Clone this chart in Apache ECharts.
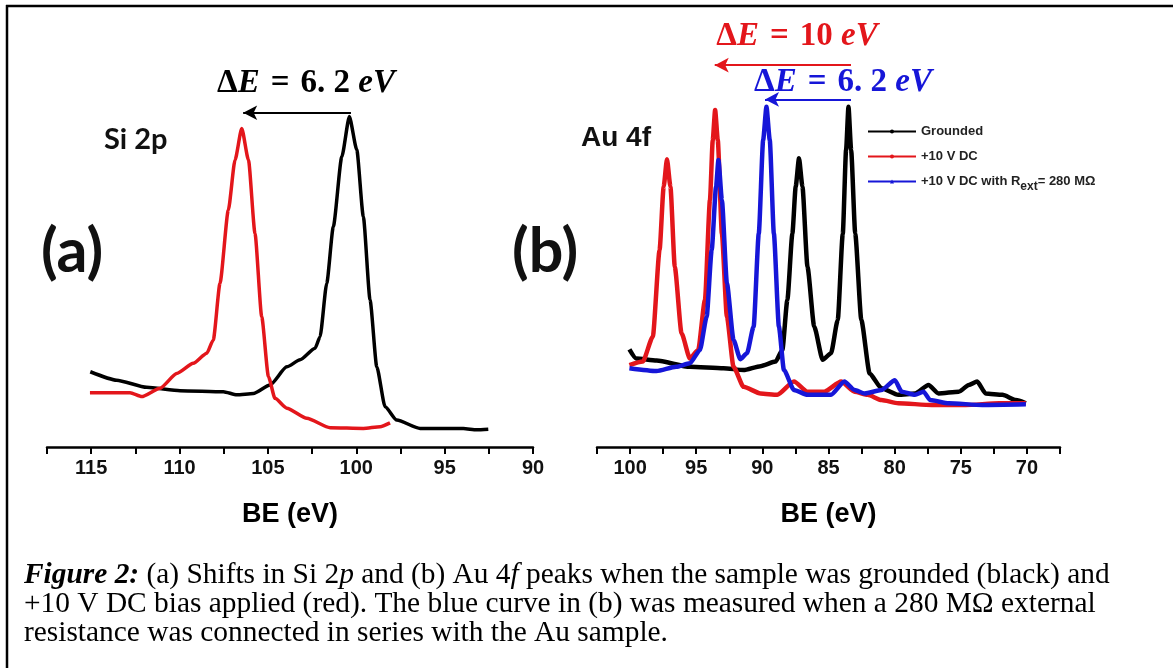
<!DOCTYPE html>
<html><head><meta charset="utf-8">
<script src="https://cdn.jsdelivr.net/npm/echarts@6/dist/echarts.min.js"></script>
<style>html,body{margin:0;padding:0;background:#fff}#c{width:1173px;height:668px}</style>
</head><body><div id="c"></div><script>
// ---- Panel (a): Si 2p ----
const siBE_g = [115.05,113.56,111.86,109.97,107.52,106.76,105.82,104.88,103.93,103.18,102.33,102.05,101.67,101.3,100.82,100.39,99.97,99.6,99.22,98.84,98.37,97.71,96.39,95.26,93.94,93.19,92.53];
const siI_g  = [21.5,19.1,17.05,16.1,15.8,14.9,15.3,17.7,22.9,24.9,28.2,31.5,46.8,62.9,82.9,94.4,84.9,65.8,42,22.9,11.5,7.7,5.3,5.3,5.3,4.9,5.1];
const siBE_r = [115.07,112.8,112.14,111.1,110.16,109.22,108.46,108.09,107.71,107.24,106.86,106.48,106.1,105.73,105.35,104.97,104.6,103.93,102.8,101.48,99.6,98.65,98.09];
const siI_r  = [15.5,15.5,14.4,16.8,21,23.9,26.8,30.6,46.8,67.7,82,91,82,61,37.2,20.1,13.9,11.1,8.2,5.5,5.3,5.8,6.9];
// ---- Panel (b): Au 4f ----
const auBE_g = [100.05,99.54,98.0,95.48,92.94,91.42,90.14,89.0,88.49,88.11,87.73,87.48,87.23,86.97,86.59,86.08,85.44,84.81,84.3,83.92,83.67,83.49,83.29,82.98,82.52,81.89,81.0,79.73,78.46,77.44,76.68,75.15,74.39,73.76,73.12,71.85,70.84,70.08];
const auI_g  = [27.9,25.3,24.7,22.9,22.5,22,23.1,24.4,27.7,42,61,74.4,82.5,74.4,51.5,34.4,24.9,26.8,36.3,61,84.9,97.2,84.9,61,36.3,21,16.8,14.9,15.3,17.7,15.3,15.8,17.7,18.7,15.3,14.9,13.4,12.5];
const auBE_r = [100.05,99.04,98.28,97.77,97.46,97.21,96.95,96.62,96.11,95.48,94.85,94.34,93.96,93.75,93.57,93.37,93.06,92.68,92.18,91.42,90.14,88.87,87.61,86.59,85.32,84.05,83.03,82.04,81.0,79.73,77.19,74.65,72.1,70.08];
const auI_r  = [23.4,24.4,31.5,56.3,74.4,82.2,74.4,51.5,32.5,25.3,27.7,42,70.6,87.7,96.3,87.7,61,37.2,22.9,17.2,15.3,14.9,18.7,15.8,15.8,18.7,15.8,14.9,13.4,12.5,12,12,12.5,12.5];
const auBE_b = [100.05,98.0,96.52,95.48,94.72,94.21,93.83,93.5,93.32,93.06,92.68,92.18,91.67,91.16,90.66,90.27,89.94,89.69,89.44,89.13,88.75,88.37,87.61,86.59,84.81,83.8,83.03,82.27,81.0,79.98,79.47,78.46,77.82,77.31,75.91,73.37,70.08];
const auI_b  = [22.5,21.7,22.9,23.9,27.7,37.2,56.3,74.4,82,70.6,46.8,30.6,25.1,26.8,34.4,61,87.7,97.2,87.7,61,34.4,22,16.3,14.9,14.9,18.7,16.3,15.3,16.3,19.1,15.8,14.9,15.8,13.4,12.5,12,12.2];
// ---- shift arrows (BE from, BE to, height) ----
const arrowA    = [100.3, 106.4, 95.5];
const arrowBRed = [83.3, 93.6, 109.1];
const arrowBBlue= [83.3, 89.8, 99.3];
const seriesNames = ['Grounded', '+10 V DC', '+10 V DC with Rext'];

const BLACK = '#000000', RED = '#e3161b', BLUE = '#1616d8';
const zip = (a, b) => a.map((v, i) => [v, b[i]]);
const SANS = 'Liberation Sans, Arial, sans-serif';
const SERIF = 'Liberation Serif, Times New Roman, serif';

function xAxisCfg(grid, min, max) {
  return {
    gridIndex: grid, type: 'value', inverse: true, min: min, max: max, interval: 2.5,
    axisLine: { show: true, onZero: false, lineStyle: { color: '#000', width: 2.5 } },
    axisTick: { show: true, length: 7, lineStyle: { color: '#000', width: 2 } },
    axisLabel: { margin: 11, fontFamily: SANS, fontWeight: 'bold', fontSize: 20, color: '#111',
      formatter: v => (Math.abs(v % 5) < 1e-6 ? String(v) : '') },
    splitLine: { show: false },
    name: 'BE (eV)', nameLocation: 'middle', nameGap: 54,
    nameTextStyle: { fontFamily: SANS, fontWeight: 'bold', fontSize: 27, color: '#000' }
  };
}
function yAxisCfg(grid) {
  return { gridIndex: grid, type: 'value', min: 0, max: 120, show: false, splitLine: { show: false } };
}
function arrow(a, color) {
  return {
    silent: true, animation: false, symbol: ['none', 'arrow'], symbolSize: [11, 14],
    label: { show: false }, lineStyle: { color: color, width: 2, type: 'solid' },
    emphasis: { disabled: true },
    data: [[{ coord: [a[0], a[2]] }, { coord: [a[1], a[2]] }]]
  };
}
function line(name, data, color, xi, width, mark, sym) {
  const s = {
    name: name, type: 'line', xAxisIndex: xi, yAxisIndex: xi, data: data,
    showSymbol: false, symbol: sym || 'circle', symbolSize: 4, smooth: 0.2, smoothMonotone: 'x',
    lineStyle: { color: color, width: width }, itemStyle: { color: color },
    emphasis: { disabled: true }, animation: false
  };
  if (mark) s.markLine = mark;
  return s;
}
function dE(value) {
  return '{n|Δ}{i|E}{s| }{n|=}{s| }{n|' + value + ' }{i|eV}';
}
function dERich(color) {
  return {
    n: { fontFamily: SERIF, fontWeight: 'bold', fontSize: 33, fill: color, color: color },
    s: { fontFamily: SERIF, fontWeight: 'bold', fontSize: 44, fill: color, color: color },
    i: { fontFamily: SERIF, fontWeight: 'bold', fontStyle: 'italic', fontSize: 33, fill: color, color: color }
  };
}
const capRich = {
  r:  { fontFamily: SERIF, fontSize: 29.4, fill: '#000' },
  it: { fontFamily: SERIF, fontSize: 29.4, fontStyle: 'italic', fill: '#000' },
  bi: { fontFamily: SERIF, fontSize: 29.4, fontStyle: 'italic', fontWeight: 'bold', fill: '#000' }
};

const chart = echarts.init(document.getElementById('c'), null, { renderer: 'canvas' });
chart.setOption({
  backgroundColor: '#fff',
  animation: false,
  grid: [
    { left: 47, width: 486, top: 27, height: 420 },
    { left: 597, width: 463, top: 27, height: 420 }
  ],
  xAxis: [xAxisCfg(0, 90, 117.5), xAxisCfg(1, 67.5, 102.5)],
  yAxis: [yAxisCfg(0), yAxisCfg(1)],
  legend: {
    orient: 'vertical', left: 862, top: 120, itemWidth: 48, itemHeight: 5, itemGap: 12,
    data: seriesNames, selectedMode: false,
    textStyle: { fontFamily: SANS, fontWeight: 'bold', fontSize: 13, color: '#222',
      rich: {
        n: { fontFamily: SANS, fontWeight: 'bold', fontSize: 13, color: '#222' },
        sub: { fontFamily: SANS, fontWeight: 'bold', fontSize: 12, color: '#222', padding: [10, 0, 0, 0] }
      } },
    formatter: name => name === seriesNames[2] ? '{n|+10 V DC with R}{sub|ext}{n|= 280 MΩ}' : name
  },
  series: [
    line(seriesNames[0], zip(siBE_g, siI_g), BLACK, 0, 3.5, arrow(arrowA, BLACK)),
    line(seriesNames[1], zip(siBE_r, siI_r), RED, 0, 3.5),
    line(seriesNames[0], zip(auBE_g, auI_g), BLACK, 1, 4.5),
    line(seriesNames[1], zip(auBE_r, auI_r), RED, 1, 4.5, arrow(arrowBRed, RED)),
    line(seriesNames[2], zip(auBE_b, auI_b), BLUE, 1, 4.5, arrow(arrowBBlue, BLUE), 'triangle')
  ],
  graphic: [
    { type: 'line', shape: { x1: 6, y1: 6, x2: 1173, y2: 6 }, style: { stroke: '#000', lineWidth: 2.5 } },
    { type: 'line', shape: { x1: 7, y1: 5, x2: 7, y2: 668 }, style: { stroke: '#000', lineWidth: 2.5 } },
    { type: 'text', x: 306, y: 83, style: { text: dE('6. 2'), rich: dERich(BLACK), align: 'center', verticalAlign: 'middle' } },
    { type: 'text', x: 797, y: 36, style: { text: dE('10'), rich: dERich(RED), align: 'center', verticalAlign: 'middle' } },
    { type: 'text', x: 843, y: 82, style: { text: dE('6. 2'), rich: dERich(BLUE), align: 'center', verticalAlign: 'middle' } },
    { type: 'text', x: 104, y: 140, style: { text: 'Si 2p', font: 'bold 29px Lato, sans-serif', fill: '#111', verticalAlign: 'middle' } },
    { type: 'text', x: 581, y: 138, style: { text: 'Au 4f', font: 'bold 28px ' + SANS, fill: '#111', verticalAlign: 'middle' } },
    { type: 'text', x: 41, y: 252, style: { text: '(a)', font: 'bold 61px Lato, sans-serif', fill: '#111', verticalAlign: 'middle' } },
    { type: 'text', x: 512, y: 252, style: { text: '(b)', font: 'bold 61px Lato, sans-serif', fill: '#111', verticalAlign: 'middle' } },
    { type: 'text', x: 24, y: 575, style: { text: '{bi|Figure 2:}{r| (a) Shifts in Si 2}{it|p}{r| and (b) Au 4}{it|f}{r| peaks when the sample was grounded (black) and}', rich: capRich, verticalAlign: 'middle' } },
    { type: 'text', x: 24, y: 604, style: { text: '{r|+10 V DC bias applied (red). The blue curve in (b) was measured when a 280 MΩ external}', rich: capRich, verticalAlign: 'middle' } },
    { type: 'text', x: 24, y: 633, style: { text: '{r|resistance was connected in series with the Au sample.}', rich: capRich, verticalAlign: 'middle' } }
  ]
});
</script></body></html>
